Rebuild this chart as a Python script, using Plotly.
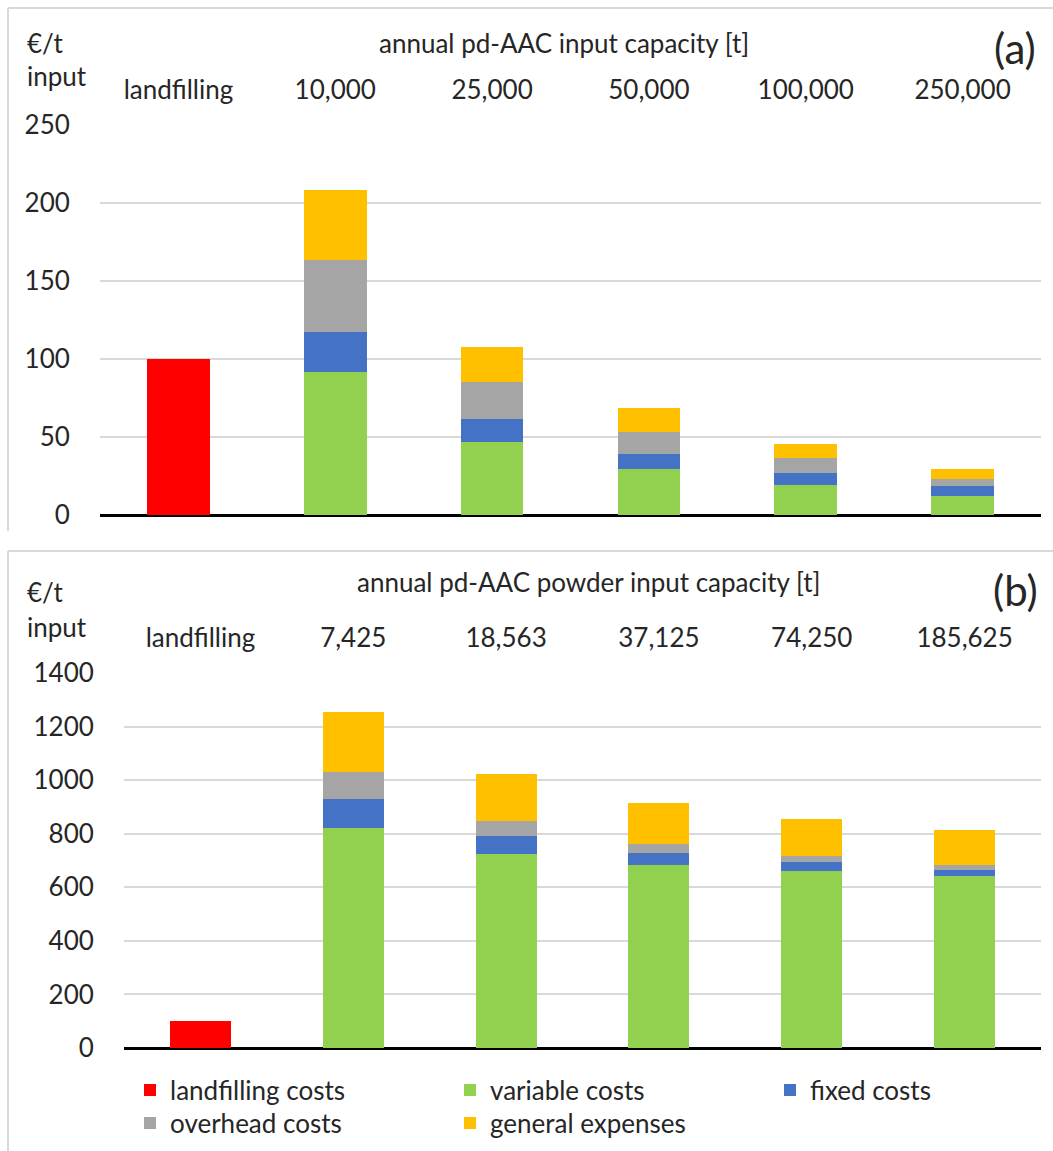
import plotly.graph_objects as go

W, H = 1053, 1151
FONT = "Lato"
TXT = "#262626"
FS = 26

# ---- data -------------------------------------------------------------
cats_a = ["landfilling", "10,000", "25,000", "50,000", "100,000", "250,000"]
cats_b = ["landfilling", "7,425", "18,563", "37,125", "74,250", "185,625"]

landfill_a = [100]
variable_a = [91.6, 47.0, 29.8, 19.3, 12.1]
fixed_a = [25.8, 14.5, 9.4, 7.9, 6.3]
overhead_a = [45.9, 23.7, 14.3, 9.2, 5.0]
general_a = [45.2, 22.6, 15.0, 9.3, 5.9]

landfill_b = [100]
variable_b = [821, 725, 684, 660, 644]
fixed_b = [107, 67, 45, 34, 21]
overhead_b = [104, 57, 34, 21, 17]
general_b = [224, 175, 153, 140, 131]

yticks_a = [0, 50, 100, 150, 200, 250]
yticks_b = [0, 200, 400, 600, 800, 1000, 1200, 1400]

series_names = ["landfilling costs", "variable costs", "fixed costs",
                "overhead costs", "general expenses"]
colors = ["#FF0000", "#92D050", "#4472C4", "#A5A5A5", "#FFC000"]
# legend rows: first three entries on row 1, last two on row 2
legend_ids = ["legend", "legend", "legend", "legend2", "legend2"]
legend_widths = [275, 275, 170, 275, 230]


def px_x(x):
    return x / W


def px_y(y):
    return 1 - y / H


fig = go.Figure()


def add_panel(cats, landfill, parts, xa, ya, show):
    values = [landfill] + parts
    for i, (name, col, vals) in enumerate(zip(series_names, colors, values)):
        xs = cats[:1] if i == 0 else cats[1:]
        fig.add_trace(go.Bar(x=xs, y=vals, name=name,
                             marker=dict(color=col, line=dict(width=0)),
                             xaxis=xa, yaxis=ya, showlegend=show,
                             legend=legend_ids[i],
                             legendwidth=legend_widths[i]))


add_panel(cats_a, landfill_a, [variable_a, fixed_a, overhead_a, general_a],
          "x", "y", False)
add_panel(cats_b, landfill_b, [variable_b, fixed_b, overhead_b, general_b],
          "x2", "y2", True)

font = dict(family=FONT, size=FS, color=TXT)

xcommon = dict(type="category", side="top", showgrid=False, zeroline=False,
               showline=False, ticks="outside", ticklen=15,
               tickcolor="rgba(0,0,0,0)", tickfont=font, automargin=False,
               fixedrange=True)
ycommon = dict(showgrid=True, gridcolor="#D9D9D9", gridwidth=2,
               zeroline=True, zerolinecolor="#000000", zerolinewidth=3,
               showline=False, ticks="outside", ticklen=24,
               tickcolor="rgba(0,0,0,0)", tickfont=font, automargin=False,
               fixedrange=True)

legend_common = dict(orientation="h", x=px_x(130), xanchor="left",
                     yanchor="middle", entrywidthmode="pixels", font=font,
                     traceorder="normal", bgcolor="rgba(0,0,0,0)",
                     itemclick=False, itemdoubleclick=False)

fig.update_layout(
    width=W, height=H,
    margin=dict(l=0, r=0, t=0, b=0),
    paper_bgcolor="white", plot_bgcolor="white",
    barmode="stack", bargap=0.6,
    font=dict(family=FONT, color=TXT),
    xaxis=dict(xcommon, domain=[px_x(100), px_x(1041)], anchor="y",
               categoryorder="array", categoryarray=cats_a),
    yaxis=dict(ycommon, domain=[px_y(515), px_y(125)], anchor="x",
               range=[0, 250], tickvals=yticks_a),
    xaxis2=dict(xcommon, domain=[px_x(124), px_x(1041)], anchor="y2",
                categoryorder="array", categoryarray=cats_b),
    yaxis2=dict(ycommon, domain=[px_y(1048), px_y(673)], anchor="x2",
                range=[0, 1400], tickvals=yticks_b),
    legend=dict(legend_common, y=px_y(1090)),
    legend2=dict(legend_common, y=px_y(1123)),
)

# panel frames (left and top edges)
frame = dict(color="#D9D9D9", width=2)
for top, bottom in [(8, 531), (551, 1151)]:
    fig.add_shape(type="line", xref="paper", yref="paper",
                  x0=px_x(8), x1=1.0, y0=px_y(top), y1=px_y(top), line=frame)
    fig.add_shape(type="line", xref="paper", yref="paper",
                  x0=px_x(8), x1=px_x(8), y0=px_y(top), y1=px_y(bottom),
                  line=frame)


def note(text, x, y, size=FS, xanchor="center"):
    fig.add_annotation(text=text, xref="paper", yref="paper",
                       x=px_x(x), y=px_y(y), xanchor=xanchor, yanchor="middle",
                       showarrow=False,
                       font=dict(family=FONT, size=size, color=TXT))


note("annual pd-AAC input capacity [t]", 564, 43)
note("(a)", 1015, 48, size=42)
note("€/t", 25, 43, xanchor="left")
note("input", 25, 76, xanchor="left")

note("annual pd-AAC powder input capacity [t]", 588, 582)
note("(b)", 1015, 590, size=42)
note("€/t", 25, 592, xanchor="left")
note("input", 25, 627, xanchor="left")

fig.write_html("out.html")
